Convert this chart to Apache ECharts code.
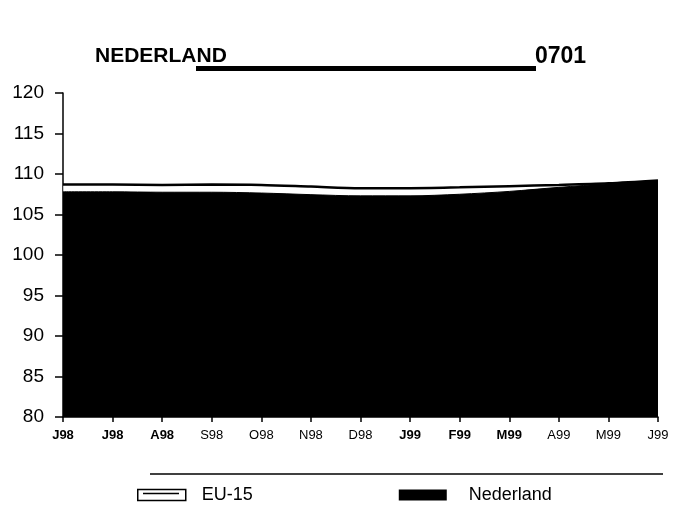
<!DOCTYPE html>
<html>
<head>
<meta charset="utf-8">
<script src="https://cdn.jsdelivr.net/npm/echarts@6/dist/echarts.min.js"></script>
<style>
  html, body { margin: 0; padding: 0; background: #fff; }
  #chart { width: 691px; height: 506px; }
</style>
</head>
<body>
<div id="chart"></div>
<script>
// months Jun 98 .. Jun 99
const months = ['J98', 'J98', 'A98', 'S98', 'O98', 'N98', 'D98', 'J99', 'F99', 'M99', 'A99', 'M99', 'J99']
const boldMonth = [true, true, true, false, false, false, false, true, true, true, false, false, false]
const eu15 = [108.7, 108.7, 108.65, 108.7, 108.65, 108.45, 108.25, 108.25, 108.35, 108.5, 108.65, 108.85, 109.2]
const nederland = [107.8, 107.8, 107.75, 107.75, 107.65, 107.45, 107.3, 107.3, 107.5, 107.85, 108.35, 108.8, 109.2]
const yTicks = { min: 80, max: 120, step: 5 }

const chart = echarts.init(document.getElementById('chart'))

chart.setOption({
  animation: false,
  backgroundColor: '#fff',
  textStyle: { fontFamily: 'Liberation Sans, Arial, sans-serif', color: '#000' },
  grid: { left: 63, right: 33, top: 93, bottom: 89 },
  legend: {
    left: 132,
    top: 481,
    itemWidth: 48,
    itemHeight: 11,
    itemGap: 146,
    icon: 'rect',
    textStyle: { fontSize: 18, color: '#000' },
    data: [
      { name: 'EU-15', itemStyle: { color: '#fff', borderColor: '#000', borderWidth: 1.5 }, textStyle: { padding: [2, 0, 0, 11] } },
      { name: 'Nederland', itemStyle: { color: '#000' }, textStyle: { padding: [2, 0, 0, 17] } }
    ]
  },
  xAxis: {
    type: 'category',
    boundaryGap: false,
    data: months.map((m, i) => ({
      value: m,
      textStyle: { fontWeight: boldMonth[i] ? 'bold' : 'normal' }
    })),
    axisLine: { lineStyle: { color: '#000', width: 1.5 } },
    axisTick: { show: true, length: 5, lineStyle: { color: '#000', width: 1.5 } },
    axisLabel: { color: '#000', fontSize: 13, margin: 12, interval: 0 }
  },
  yAxis: {
    type: 'value',
    min: yTicks.min,
    max: yTicks.max,
    interval: yTicks.step,
    axisLine: { show: true, lineStyle: { color: '#000', width: 1.5 } },
    axisTick: { show: true, length: 8, lineStyle: { color: '#000', width: 1.5 } },
    axisLabel: { color: '#000', fontSize: 19, margin: 19 },
    splitLine: { show: false }
  },
  series: [
    {
      name: 'EU-15',
      type: 'line',
      data: eu15,
      smooth: 0.3,
      symbol: 'none',
      lineStyle: { color: '#000', width: 2.5 },
      itemStyle: { color: '#fff' },
      areaStyle: { color: '#fff', origin: 'start' },
      z: 2
    },
    {
      name: 'Nederland',
      type: 'line',
      data: nederland,
      smooth: 0.3,
      symbol: 'none',
      lineStyle: { color: '#000', width: 1 },
      itemStyle: { color: '#000' },
      areaStyle: { color: '#000', opacity: 1, origin: 'start' },
      z: 3
    }
  ],
  graphic: [
    {
      type: 'text', left: 95, top: 46,
      style: { text: 'NEDERLAND', font: 'bold 21px Liberation Sans, Arial, sans-serif', fill: '#000' }
    },
    {
      type: 'text', left: 535, top: 45,
      style: { text: '0701', font: 'bold 23px Liberation Sans, Arial, sans-serif', fill: '#000' }
    },
    {
      type: 'rect', shape: { x: 196, y: 66, width: 340, height: 5 },
      style: { fill: '#000' }
    },
    {
      type: 'line', shape: { x1: 150, y1: 474, x2: 663, y2: 474 },
      style: { stroke: '#000', lineWidth: 1.5 }
    },
    {
      type: 'line', shape: { x1: 143, y1: 493.5, x2: 179, y2: 493.5 },
      style: { stroke: '#000', lineWidth: 1.5 }, z: 100
    }
  ]
})
</script>
</body>
</html>
